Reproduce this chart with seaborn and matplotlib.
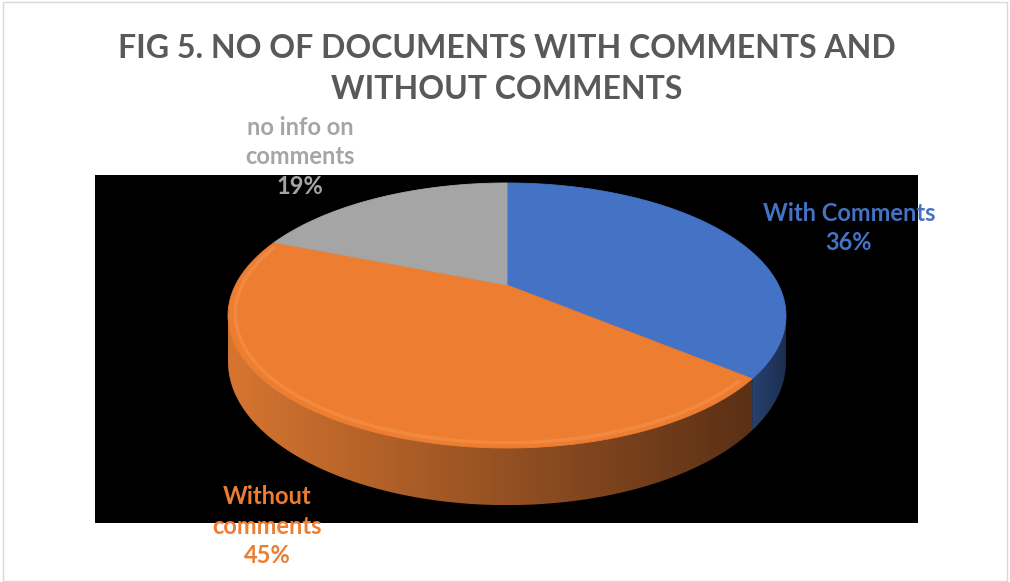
import numpy as np
import matplotlib
matplotlib.use("Agg")
import matplotlib.pyplot as plt
import matplotlib.transforms as mtransforms
from matplotlib.path import Path
from matplotlib.patches import Polygon, Rectangle
from matplotlib.colors import LinearSegmentedColormap
import seaborn as sns

# ---------------- data ----------------
categories = ["With Comments", "Without comments", "no info on comments"]
label_lines = ["With Comments", "Without\ncomments", "no info on\ncomments"]
shares = [36, 45, 19]
title = "FIG 5. NO OF DOCUMENTS WITH COMMENTS AND\nWITHOUT COMMENTS"

# ---------------- style ----------------
sns.set_theme(style="white")
plt.rcParams["font.family"] = ["Lato", "DejaVu Sans"]
palette = sns.color_palette(["#4472C4", "#ED7D31", "#A5A5A5"])
side_colors = [("#27426f", "#1b2e4f"), ("#d67530", "#5a3016"), ("#7d7d7d", "#5a5a5a")]
label_colors = ["#4472C4", "#ED7D31", "#A5A5A5"]

W, H = 1010, 582
fig = plt.figure(figsize=(W / 100, H / 100), dpi=100, facecolor="white")

# plot area (black) in pixel coords
px0, px1, py0, py1 = 95, 918, 175, 523
ax = fig.add_axes([px0 / W, 1 - py1 / H, (px1 - px0) / W, (py1 - py0) / H])
ax.set_facecolor("black")
for s in ax.spines.values():
    s.set_visible(False)

# perspective parameters (pixel space)
CX, CY = 507.0, 285.0
A_, B_ = 271.5, 125.5
K = 0.23
DEPTH = 44.0


class Persp(mtransforms.Transform):
    input_dims = 2
    output_dims = 2
    is_separable = False
    has_inverse = False

    def transform_non_affine(self, values):
        values = np.asarray(values, dtype=float)
        u, v = values[:, 0], values[:, 1]
        w = 1 + K * v
        return np.column_stack([CX + A_ * u / w, CY - B_ * v / w])

    def transform_path_non_affine(self, path):
        sc = 2000.0
        polys = path.to_polygons(transform=mtransforms.Affine2D().scale(sc),
                                 closed_only=False)
        verts, codes = [], []
        for p in polys:
            if len(p) == 0:
                continue
            tp = self.transform_non_affine(np.asarray(p) / sc)
            verts.extend(tp)
            codes.extend([Path.MOVETO] + [Path.LINETO] * (len(tp) - 1))
        return Path(np.array(verts), codes)


persp = Persp()


def project(u, v, h):
    w = 1 + K * v
    return CX + A_ * u / w, CY - B_ * v / w + DEPTH * h / w


wedges, _ = ax.pie(shares, colors=palette, startangle=90, counterclock=False,
                   radius=1, center=(0, 0), frame=True,
                   wedgeprops=dict(linewidth=0.6, zorder=3))
for w, c in zip(wedges, palette):
    w.set_edgecolor(c)
    w.set_transform(persp + ax.transData)

# visible front side range (silhouette angles)
t_sil = np.degrees(np.arcsin(K))
vis_lo, vis_hi = -180 + t_sil, -t_sil

for w, (c1, c2), tc in zip(wedges, side_colors, palette):
    lo, hi = max(w.theta1, vis_lo), min(w.theta2, vis_hi)
    if hi <= lo:
        continue
    t = np.radians(np.linspace(lo, hi, 300))
    xt, yt = project(np.cos(t), np.sin(t), -0.02)
    xb, yb = project(np.cos(t), np.sin(t), 1)
    poly_xy = np.column_stack([np.r_[xt, xb[::-1]], np.r_[yt, yb[::-1]]])
    poly = Polygon(poly_xy, closed=True, facecolor="none", edgecolor="none",
                   transform=ax.transData)
    ax.add_patch(poly)
    cmap = LinearSegmentedColormap.from_list("g", [c1, c2])
    grad = np.linspace(0, 1, 256)[None, :]
    xmin, xmax = poly_xy[:, 0].min(), poly_xy[:, 0].max()
    ymin, ymax = poly_xy[:, 1].min(), poly_xy[:, 1].max()
    im = ax.imshow(grad, cmap=cmap, aspect="auto",
                   extent=[xmin, xmax, ymax, ymin], zorder=2,
                   interpolation="bilinear")
    im.set_clip_path(poly)

# soft rim highlight on the orange top face
orange = wedges[1]
tt = np.radians(np.linspace(orange.theta1 + 2, orange.theta2 - 2, 300))
ax.plot(0.975 * np.cos(tt), 0.975 * np.sin(tt), color="#ffb070", alpha=0.25,
        lw=2.5, zorder=4, transform=persp + ax.transData, solid_capstyle="butt")

ax.set_xlim(px0, px1)
ax.set_ylim(py1, py0)
ax.set_xticks([])
ax.set_yticks([])
ax.set_aspect("auto")

# ---------------- texts ----------------
def ftext(x, y, s, **kw):
    fig.text(x / W, 1 - y / H, s, ha="center", va="center", **kw)

ftext(507, 69, title, fontsize=23, fontweight="bold", color="#595959",
      linespacing=1.52)

lab_pos = [(849, 228), (267, 526), (300, 157)]
for lab, sh, (x, y), c in zip(label_lines, shares, lab_pos, label_colors):
    ftext(x, y, f"{lab}\n{sh}%", fontsize=17, fontweight="bold", color=c,
          linespacing=1.33)

# figure border
fig.patches.append(Rectangle((3 / W, 1 / H), 1004 / W, 579 / H,
                             transform=fig.transFigure, fill=False,
                             edgecolor="#d9d9d9", lw=1))

fig.savefig("out.png", dpi=100, facecolor="white")
